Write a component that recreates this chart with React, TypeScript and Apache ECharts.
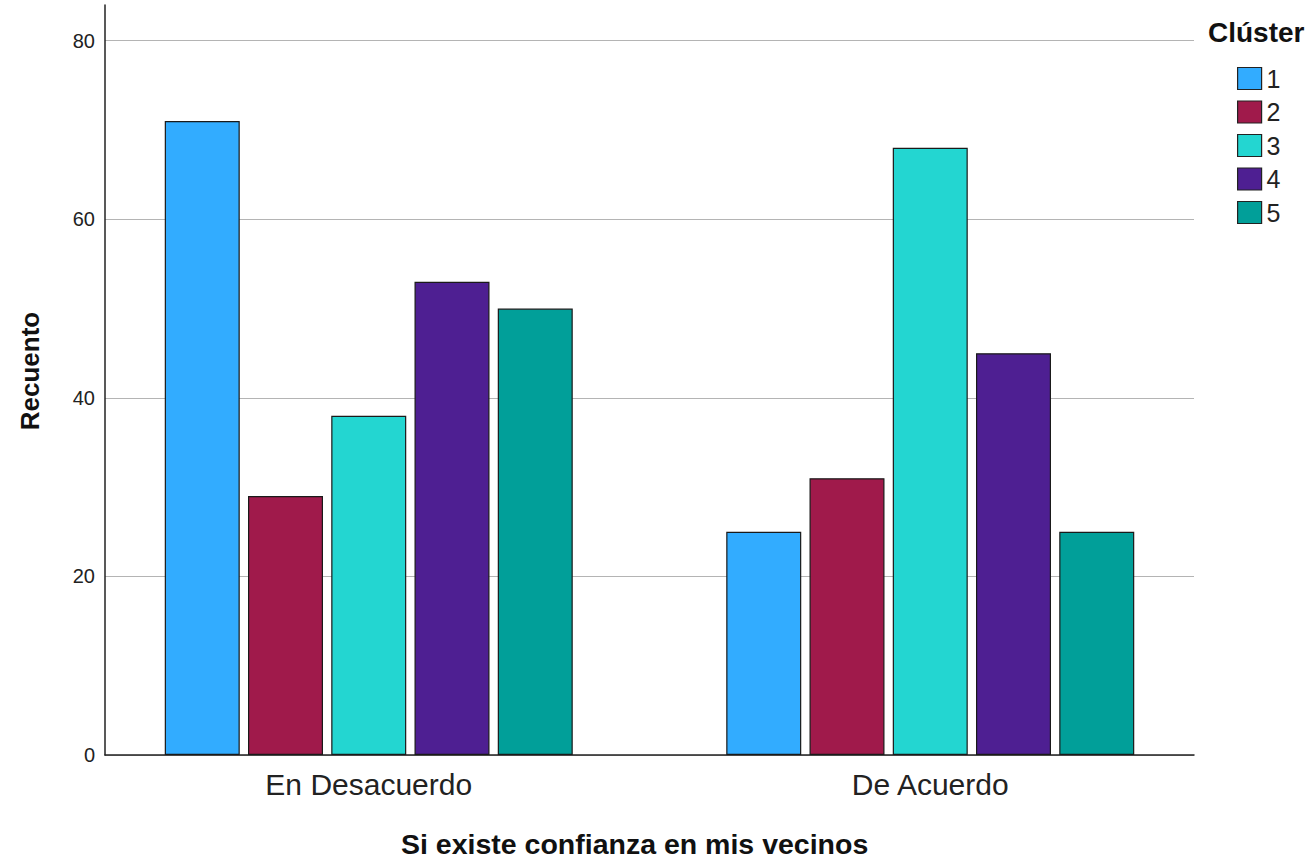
import React, { useEffect, useRef } from "react";
import * as echarts from "echarts";

const categories = ["En Desacuerdo", "De Acuerdo"];
const clusterNames = ["1", "2", "3", "4", "5"];
const cluster1 = [71, 25];
const cluster2 = [29, 31];
const cluster3 = [38, 68];
const cluster4 = [53, 45];
const cluster5 = [50, 25];
const seriesValues = [cluster1, cluster2, cluster3, cluster4, cluster5];
const colors = ["#32acff", "#a01a4b", "#23d6d1", "#4e1f92", "#019f99"];
const yTicks = [0, 20, 40, 60, 80];

const FONT = "'Liberation Sans', Arial, sans-serif";

export default function App() {
  const ref = useRef<HTMLDivElement>(null);
  useEffect(() => {
    if (!ref.current) return;
    const chart = echarts.init(ref.current, null, { renderer: "svg" });
    const option: any = {
      animation: false,
      backgroundColor: "#ffffff",
      textStyle: { fontFamily: FONT },
      grid: [
        { left: 105, right: 122, top: 5, bottom: 107, containLabel: false },
        { left: 88, right: 105, top: 5, bottom: 107, containLabel: false },
      ],
      xAxis: [
        {
          type: "category",
          gridIndex: 0,
          data: categories,
          axisLine: { show: true, lineStyle: { color: "#222", width: 1.5 } },
          axisTick: { show: false },
          axisLabel: { show: false },
          splitLine: { show: false },
        },
        {
          type: "category",
          gridIndex: 1,
          data: categories,
          axisLine: { show: false },
          axisTick: { show: false },
          axisLabel: {
            show: true,
            fontSize: 30,
            color: "#222",
            margin: 14,
            fontFamily: FONT,
          },
          splitLine: { show: false },
        },
      ],
      yAxis: [
        {
          type: "value",
          gridIndex: 0,
          min: 0,
          max: 84,
          interval: 20,
          axisLine: { show: true, lineStyle: { color: "#222", width: 1.5 } },
          axisTick: { show: false },
          axisLabel: {
            show: true,
            fontSize: 20,
            color: "#222",
            margin: 10,
            fontFamily: FONT,
            showMaxLabel: false,
            formatter: (v: number) => (yTicks.indexOf(v) >= 0 ? String(v) : ""),
          },
          splitLine: {
            show: true,
            showMaxLine: false,
            lineStyle: { color: "#b4b4b4", width: 1.2 },
          },
        },
        {
          type: "value",
          gridIndex: 1,
          min: 0,
          max: 84,
          interval: 20,
          show: false,
          splitLine: { show: false },
        },
      ],
      legend: {
        orient: "vertical",
        left: 1232,
        top: 61,
        itemWidth: 24,
        itemHeight: 22,
        itemGap: 8.5,
        icon: "rect",
        data: clusterNames,
        itemStyle: { borderColor: "#222", borderWidth: 1.2 },
        textStyle: {
          fontSize: 25,
          color: "#222",
          fontFamily: FONT,
          lineHeight: 22,
        },
      },
      graphic: [
        {
          type: "text",
          left: 1208,
          top: 18,
          style: {
            text: "Clúster",
            font: `bold 28px ${FONT}`,
            fill: "#111",
          },
        },
        {
          type: "text",
          left: 401,
          top: 829,
          style: {
            text: "Si existe confianza en mis vecinos",
            font: `bold 28.5px ${FONT}`,
            fill: "#111",
          },
        },
        {
          type: "text",
          x: 30,
          y: 371,
          rotation: Math.PI / 2,
          style: {
            text: "Recuento",
            font: `bold 26px ${FONT}`,
            fill: "#111",
            textAlign: "center",
            textVerticalAlign: "middle",
          },
        },
      ],
      series: seriesValues.map((vals, i) => ({
        name: clusterNames[i],
        type: "bar",
        xAxisIndex: 1,
        yAxisIndex: 1,
        data: vals,
        barWidth: 75,
        barGap: "11%",
        itemStyle: {
          color: colors[i],
          borderColor: "#1a1a1a",
          borderWidth: 1.2,
        },
      })),
    };
    chart.setOption(option);
    return () => chart.dispose();
  }, []);
  return (
    <div
      ref={ref}
      style={{ position: "fixed", left: 0, top: 0, width: 1316, height: 862 }}
    />
  );
}
